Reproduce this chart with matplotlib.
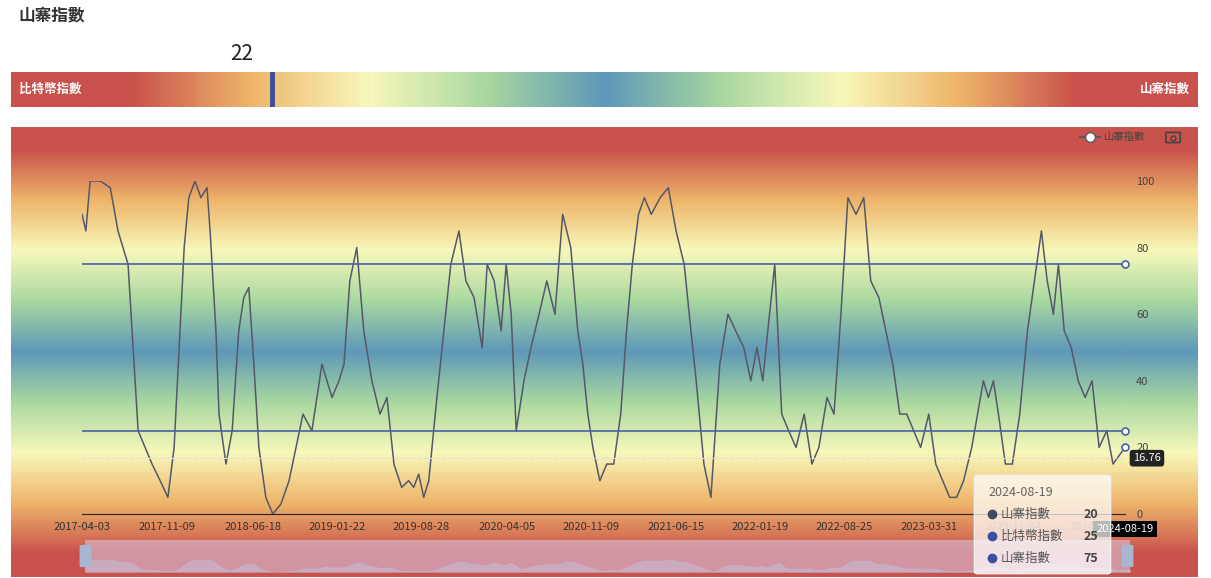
import matplotlib
matplotlib.use("Agg")
import matplotlib.pyplot as plt
import numpy as np
import pandas as pd
from matplotlib.colors import LinearSegmentedColormap
from matplotlib.patches import FancyBboxPatch

plt.rcParams['font.family'] = ['Noto Sans CJK TC', 'DejaVu Sans']

W, H = 1211, 578
start = pd.Timestamp("2017-04-03")
end = pd.Timestamp("2024-08-19")

# day offsets from 2017-04-03 and index values
days = [0, 10, 21, 47, 73, 93, 119, 132, 145, 163, 181, 202, 222, 238, 251, 264, 276, 292, 307, 323,
        331, 346, 354, 372, 388, 405, 418, 431, 444, 457, 475, 493, 514, 535, 553, 571, 594, 620, 646,
        664, 677, 692, 710, 728, 749, 770, 788, 806, 826, 844, 857, 870, 883, 896, 917, 935, 953, 974,
        992, 1013, 1034, 1047, 1065, 1083, 1096, 1109, 1122, 1142, 1160, 1181, 1201, 1222, 1242, 1263,
        1281, 1294, 1307, 1320, 1338, 1356, 1374, 1392, 1407, 1422, 1438, 1453, 1471, 1494, 1515, 1535,
        1556, 1569, 1587, 1607, 1625, 1648, 1669, 1689, 1710, 1728, 1744, 1759, 1772, 1790, 1808, 1826,
        1845, 1866, 1886, 1904, 1925, 1943, 1961, 1979, 2000, 2020, 2038, 2059, 2077, 2095, 2113, 2131,
        2149, 2167, 2188, 2206, 2224, 2242, 2260, 2278, 2299, 2314, 2329, 2342, 2355, 2368, 2386, 2404,
        2423, 2443, 2461, 2479, 2494, 2510, 2523, 2538, 2556, 2574, 2592, 2610, 2628, 2648, 2664, 2695]
vals = [90, 85, 100, 100, 98, 85, 75, 50, 25, 20, 15, 10, 5, 20, 50, 80, 95, 100, 95, 98,
        85, 55, 30, 15, 25, 55, 65, 68, 45, 20, 5, 0, 3, 10, 20, 30, 25, 45, 35,
        40, 45, 70, 80, 55, 40, 30, 35, 15, 8, 10, 8, 12, 5, 10, 35, 55, 75, 85,
        70, 65, 50, 75, 70, 55, 75, 60, 25, 40, 50, 60, 70, 60, 90, 80,
        55, 45, 30, 20, 10, 15, 15, 30, 55, 75, 90, 95, 90, 95, 98, 85,
        75, 60, 40, 15, 5, 45, 60, 55, 50, 40, 50, 40, 55, 75, 30, 25,
        20, 30, 15, 20, 35, 30, 60, 95, 90, 95, 70, 65, 55, 45, 30,
        30, 25, 20, 30, 15, 10, 5, 5, 10, 20, 30, 40, 35, 40, 30,
        15, 15, 30, 55, 70, 85, 70, 60, 75, 55, 50, 40, 35, 40, 20, 25, 15, 20]
dates = [start + pd.Timedelta(days=d) for d in days]
tick_labels = ["2017-04-03", "2017-11-09", "2018-06-18", "2019-01-22", "2019-08-28", "2020-04-05",
               "2020-11-09", "2021-06-15", "2022-01-19", "2022-08-25", "2023-03-31", "2023-11-04",
               "2024-06-10"]
tick_dates = [pd.Timestamp(t) for t in tick_labels]
gauge_value = 22
upper, lower = 75, 25
last_value = 16.76

colors = ["#c9524c", "#eeb56a", "#f8f8bb", "#a9d8a0", "#5e98b8"]


def sym_cmap(name, red_end):
    # red held up to red_end, then blend to the blue centre and back
    step = (0.5 - red_end) / 4
    stops = [(0, colors[0])] + [(red_end + i * step, c) for i, c in enumerate(colors)]
    stops += [(1 - (red_end + i * step), c) for i, c in reversed(list(enumerate(colors[:-1])))]
    stops += [(1, colors[0])]
    return LinearSegmentedColormap.from_list(name, stops)


gauge_cmap = sym_cmap("gauge", 0.1)
bg_cmap = sym_cmap("bg", 0.05)


def box(x0, y0, x1, y1):
    return [x0 / W, 1 - y1 / H, (x1 - x0) / W, (y1 - y0) / H]


fig = plt.figure(figsize=(W / 100, H / 100), dpi=100)
fig.text(18 / W, 1 - 15 / H, "山寨指數", fontsize=12, fontweight="bold", color="#333333", va="center")

# gauge bar
gax = fig.add_axes(box(11, 72, 1198, 107))
gax.imshow(np.linspace(0, 1, 500)[None, :], cmap=gauge_cmap, aspect="auto", extent=[0, 100, 0, 1])
gax.axvline(gauge_value, color="#3b4ea0", lw=3.5)
gax.text(0.7, 0.5, "比特幣指數", color="white", fontsize=9, fontweight="bold", va="center")
gax.text(99.3, 0.5, "山寨指數", color="white", fontsize=9, fontweight="bold", va="center", ha="right")
gax.text(gauge_value - 2.6, 1.5, str(gauge_value), fontsize=15, color="#222222", va="center", ha="center")
gax.set_xlim(0, 100)
gax.set_ylim(0, 1)
gax.axis("off")

# chart background
bax = fig.add_axes(box(11, 127, 1198, 577))
bax.imshow(np.linspace(0, 1, 500)[:, None], cmap=bg_cmap, aspect="auto", extent=[0, 1, 0, 1])
bax.axis("off")

ax = fig.add_axes(box(82, 181, 1125, 514))
ax.patch.set_alpha(0)
ax.plot(dates, vals, color="#55586a", lw=1.1)
ax.axhline(upper, color="#4a5fa8", lw=1.2)
ax.axhline(lower, color="#4a5fa8", lw=1.2)
ax.plot([end, end, end], [upper, lower, 20], "o", ms=5, mfc="white", mec="#4a5fa8", mew=1.2, clip_on=False)
ax.axhline(last_value, color="#dddddd", lw=0.8, ls="--")
ax.axvline(end, color="#dddddd", lw=0.8, ls="--")
ax.set_xlim(start, end)
ax.set_ylim(0, 100)
ax.set_xticks(tick_dates)
ax.set_xticklabels(tick_labels, fontsize=8, color="#333333")
for lbl in ax.get_xticklabels()[-2:]:
    lbl.set_alpha(0.4)
ax.yaxis.tick_right()
ax.set_yticks([0, 20, 40, 60, 80, 100])
ax.tick_params(axis="y", labelsize=8, labelcolor="#444444", length=0, pad=8)
ax.tick_params(axis="x", length=0, pad=6)
for s in ["top", "right", "left"]:
    ax.spines[s].set_visible(False)
ax.spines["bottom"].set_color("#222222")
ax.text(1.0 + 8 / 1043, (last_value) / 100, "16.76", transform=ax.transAxes, fontsize=8, color="white",
        va="center", bbox=dict(boxstyle="round,pad=0.3", fc="#222222", ec="none"))
ax.text(1.0, -0.03, "2024-08-19", transform=ax.transAxes, fontsize=8, color="white", va="top", ha="center",
        bbox=dict(boxstyle="square,pad=0.3", fc="#000000", ec="none"))

# legend and camera icon
fig.text(1104 / W, 1 - 137 / H, "山寨指數", fontsize=7.5, color="#444444", va="center")
fig.add_artist(plt.Line2D([1080 / W, 1100 / W], [1 - 137 / H] * 2, color="#55586a", lw=1.5))
fig.add_artist(plt.Line2D([1090 / W], [1 - 137 / H], marker="o", ms=7, mfc="white", mec="#55586a"))
fig.add_artist(FancyBboxPatch((1167 / W, 1 - 142 / H), 12 / W, 9 / H, boxstyle="round,pad=0.001",
                              fc="none", ec="#444444", lw=1.2, transform=fig.transFigure))
fig.add_artist(plt.Line2D([1173 / W], [1 - 137.5 / H], marker="o", ms=3.5, mfc="none", mec="#444444"))

# data zoom slider
zax = fig.add_axes(box(85, 540, 1130, 572))
zax.patch.set_facecolor((0.85, 0.8, 0.9, 0.55))
zax.fill_between(dates, vals, color="#c8c0dd", alpha=0.5, lw=0.6, edgecolor="#b8c0e0")
zax.set_xlim(start, end)
zax.set_ylim(0, 260)
zax.set_xticks([])
zax.set_yticks([])
for s in zax.spines.values():
    s.set_visible(False)
for hx in [82, 1124]:
    fig.add_artist(FancyBboxPatch((hx / W, 1 - 566 / H), 7 / W, 20 / H, boxstyle="round,pad=0.002",
                                  fc="#a9b6d0", ec="none", transform=fig.transFigure))

# tooltip
tx0, ty0, tx1, ty1 = 978, 477, 1107, 572
fig.add_artist(FancyBboxPatch((tx0 / W, 1 - ty1 / H), (tx1 - tx0) / W, (ty1 - ty0) / H,
                              boxstyle="round,pad=0.003", fc=(1, 1, 1, 0.72), ec="#eeeeee",
                              transform=fig.transFigure))
fig.text(988 / W, 1 - 492 / H, "2024-08-19", fontsize=9, color="#666666", va="center")
rows = [("山寨指數", 20, "#444a5e"), ("比特幣指數", 25, "#3b4ea0"), ("山寨指數", 75, "#3b4ea0")]
for i, (name, v, c) in enumerate(rows):
    yy = 1 - (514 + 22 * i) / H
    fig.add_artist(plt.Line2D([992 / W], [yy], marker="o", ms=6, color=c, transform=fig.transFigure))
    fig.text(1001 / W, yy, name, fontsize=9, color="#555555", va="center")
    fig.text(1098 / W, yy, str(v), fontsize=9, color="#444444", va="center", ha="right", fontweight="bold")

fig.savefig("out.png", dpi=100)
